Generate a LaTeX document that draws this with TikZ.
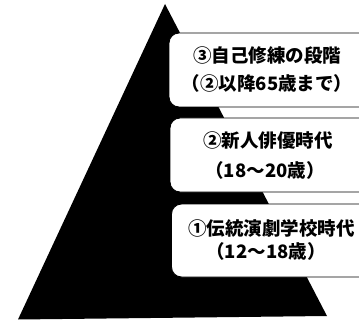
\documentclass[tikz,border=0pt]{standalone}
\usepackage{fontspec}
\newfontfamily\cjk{Noto Sans CJK JP}[BoldFont={Noto Sans CJK JP Black}]
\tikzset{
  stagebox/.style={draw=black, line width=0.9pt, fill=white, rounded corners=10pt},
  stagetext/.style={font=\cjk\bfseries\fontsize{18.5}{18.5}\selectfont, inner sep=0pt}
}
\begin{document}
\begin{tikzpicture}[x=1pt,y=1pt]
\useasboundingbox (0,0) rectangle (359,322);
\clip (0,0) rectangle (359,322);
\fill (165,318) -- (327,6) -- (18,2.5) -- cycle;

\draw[stagebox] (169,289) rectangle (385,215);
\draw[stagebox] (170,204) rectangle (385,130);
\draw[stagebox] (171.5,118) rectangle (385,45);

\node[stagetext] (s3a) at (267,267) {③自己修練の段階};
\node[stagetext] (s3b) at (267,238.7) {（②以降65歳まで）};
\node[stagetext] (s2a) at (268,181.2) {②新人俳優時代};
\node[stagetext] (s2b) at (265,152) {（18～20歳）};
\node[stagetext] (s1a) at (271.5,94) {①伝統演劇学校時代};
\node[stagetext] (s1b) at (266,70.3) {（12～18歳）};
\end{tikzpicture}
\end{document}
